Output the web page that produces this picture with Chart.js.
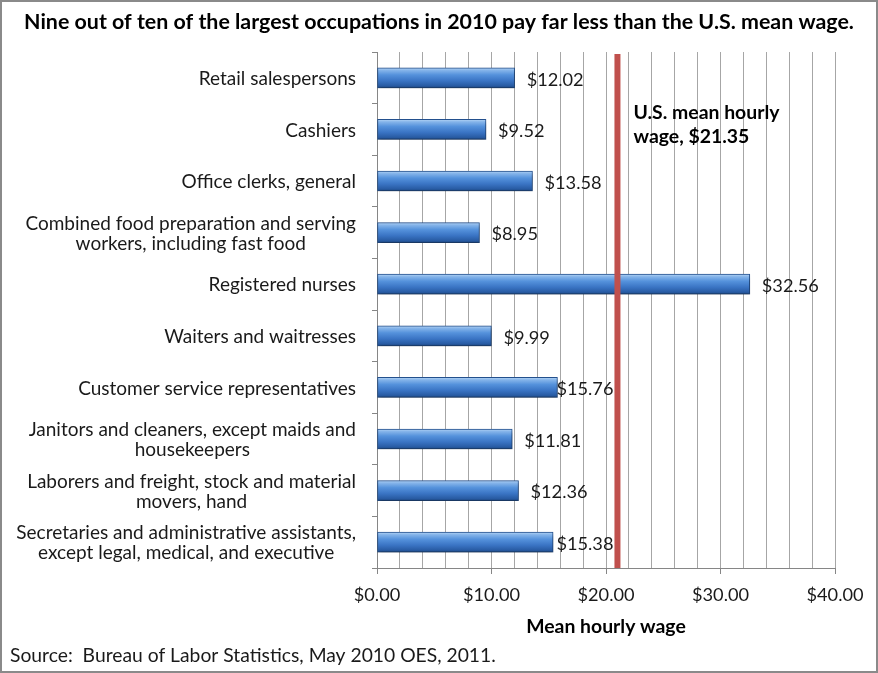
<!DOCTYPE html>
<html>
<head>
<meta charset="utf-8">
<script src="https://cdn.jsdelivr.net/npm/chart.js@4.4.0/dist/chart.umd.min.js"></script>
<style>
  html, body { margin: 0; padding: 0; background: #ffffff; }
  #wrap { width: 878px; height: 673px; position: relative; }
  canvas { display: block; }
</style>
</head>
<body>
<div id="wrap"><canvas id="c" width="878" height="673"></canvas></div>
<script>
// ---------------- data ----------------
const titleText = 'Nine out of ten of the largest occupations in 2010 pay far less than the U.S. mean wage.';
const categories = [
  ['Retail salespersons'],
  ['Cashiers'],
  ['Office clerks, general'],
  ['Combined food preparation and serving', 'workers, including fast food'],
  ['Registered nurses'],
  ['Waiters and waitresses'],
  ['Customer service representatives'],
  ['Janitors and cleaners, except maids and', 'housekeepers'],
  ['Laborers and freight, stock and material', 'movers, hand'],
  ['Secretaries and administrative assistants,', 'except legal, medical, and executive']
];
const wages = [12.02, 9.52, 13.58, 8.95, 32.56, 9.99, 15.76, 11.81, 12.36, 15.38];
const xTickValues = [0, 10, 20, 30, 40];
const meanWage = 21.35;
const meanLinePosition = 21.0;   // where the reference draws the red line
const meanLabel = ['U.S. mean hourly', 'wage, $21.35'];
const axisTitle = 'Mean hourly wage';
const sourceText = 'Source:  Bureau of Labor Statistics, May 2010 OES, 2011.';

// ---------------- styling helpers ----------------
const FAMILY = 'Lato, "Open Sans", "DejaVu Sans", sans-serif';
const mctx = document.createElement('canvas').getContext('2d');
function fit(text, weight, target) {
  mctx.font = weight + ' 100px ' + FAMILY;
  const w = mctx.measureText(text).width;
  return Math.round(1000 * target / w) / 10;
}
const sTitle = fit(titleText, 'bold', 830);
const sCat = fit('Customer service representatives', 'normal', 278);
const sTick = fit('$40.00', 'normal', 57);
const sData = fit('$12.02', 'normal', 57);
const sMean = fit('U.S. mean hourly', 'bold', 146);
const sAxis = fit(axisTitle, 'bold', 160);
const sSrc = fit(sourceText, 'normal', 485);
const TEXT = '#1a1a1a';

function money(v) { return '$' + v.toFixed(2); }

function barGradient(ctx) {
  const chart = ctx.chart;
  const ys = chart.scales && chart.scales.y;
  if (!ys || ctx.type !== 'data') return '#3f7fcf';
  const yc = ys.getPixelForValue(ctx.dataIndex);
  if (!isFinite(yc)) return '#3f7fcf';
  const g = chart.ctx.createLinearGradient(0, yc - 10, 0, yc + 10);
  g.addColorStop(0.0, '#b6d5f5');
  g.addColorStop(0.12, '#86b5ea');
  g.addColorStop(0.35, '#5592dc');
  g.addColorStop(0.65, '#3a74c4');
  g.addColorStop(0.9, '#285ba3');
  g.addColorStop(1.0, '#1d467f');
  return g;
}

// ---------------- plugins ----------------
const framePlugin = {
  id: 'frame',
  beforeDraw(chart) {
    const c = chart.ctx;
    c.save();
    c.fillStyle = '#ffffff';
    c.fillRect(0, 0, chart.width, chart.height);
    c.restore();
  },
  afterDraw(chart) {
    const c = chart.ctx;
    c.save();
    c.strokeStyle = '#8a8a8a';
    c.lineWidth = 2;
    c.strokeRect(1, 1, chart.width - 2, chart.height - 2);
    // title
    c.fillStyle = '#000';
    c.font = 'bold ' + sTitle + 'px ' + FAMILY;
    c.textAlign = 'center';
    c.textBaseline = 'alphabetic';
    c.fillText(titleText, 439, 28.5);
    // source
    c.fillStyle = TEXT;
    c.font = sSrc + 'px ' + FAMILY;
    c.textAlign = 'left';
    c.fillText(sourceText, 10, 662);
    c.restore();
  }
};

const categoryLabelPlugin = {
  id: 'catLabels',
  afterDraw(chart) {
    const c = chart.ctx;
    const ys = chart.scales.y;
    c.save();
    c.font = sCat + 'px ' + FAMILY;
    c.fillStyle = TEXT;
    c.textAlign = 'center';
    c.textBaseline = 'middle';
    const right = ys.right - 21;
    const lh = 20;
    categories.forEach((lines, i) => {
      const yc = ys.getPixelForTick(i) + 1;
      const maxW = Math.max(...lines.map(l => c.measureText(l).width));
      const cx = right - maxW / 2;
      lines.forEach((l, j) => {
        c.fillText(l, cx, yc + (j - (lines.length - 1) / 2) * lh);
      });
    });
    c.restore();
  }
};

const shadowPlugin = {
  id: 'barShadow',
  beforeDatasetsDraw(chart) {
    const c = chart.ctx;
    c.save();
    c.shadowColor = 'rgba(0,0,0,0.35)';
    c.shadowBlur = 4;
    c.shadowOffsetX = 1;
    c.shadowOffsetY = 3;
  },
  afterDatasetsDraw(chart) {
    chart.ctx.restore();
  }
};

const meanLinePlugin = {
  id: 'meanLine',
  afterDatasetsDraw(chart) {
    const c = chart.ctx;
    const xs = chart.scales.x;
    const area = chart.chartArea;
    const lx = xs.getPixelForValue(meanLinePosition);
    c.save();
    c.strokeStyle = '#c0504d';
    c.lineWidth = 6;
    c.beginPath();
    c.moveTo(lx, area.top + 2);
    c.lineTo(lx, area.bottom);
    c.stroke();
    // label
    c.fillStyle = '#000';
    c.font = 'bold ' + sMean + 'px ' + FAMILY;
    c.textAlign = 'left';
    c.textBaseline = 'alphabetic';
    meanLabel.forEach((t, j) => c.fillText(t, lx + 16, area.top + 67 + j * 24));
    // data labels
    const meta = chart.getDatasetMeta(0);
    c.font = sData + 'px ' + FAMILY;
    c.fillStyle = TEXT;
    c.textBaseline = 'middle';
    meta.data.forEach((bar, i) => {
      const txt = money(wages[i]);
      const w = c.measureText(txt).width;
      let tx = bar.x + 12;
      if (tx < lx && tx + w > lx - 4) tx = Math.min(tx, lx - 4 - w);
      c.fillText(txt, tx, bar.y + 2);
    });
    c.restore();
  }
};

// ---------------- chart ----------------
new Chart(document.getElementById('c'), {
  type: 'bar',
  data: {
    labels: categories,
    datasets: [{
      data: wages,
      backgroundColor: barGradient,
      borderColor: '#24518f',
      borderWidth: 1,
      borderSkipped: false,
      barThickness: 20
    }]
  },
  options: {
    indexAxis: 'y',
    responsive: false,
    animation: false,
    devicePixelRatio: 1,
    layout: { padding: { top: 52, right: 43, bottom: 5, left: 0 } },
    plugins: {
      legend: { display: false },
      tooltip: { enabled: false },
      title: { display: false }
    },
    scales: {
      x: {
        min: 0,
        max: 40,
        ticks: {
          stepSize: 2,
          autoSkip: false,
          maxRotation: 0,
          padding: 10,
          color: TEXT,
          font: { family: FAMILY, size: sTick },
          callback: (v) => xTickValues.includes(v) ? money(v) : ''
        },
        grid: {
          color: '#a6a6a6',
          lineWidth: 1,
          tickLength: 6,
          tickColor: (ctx) => (ctx.tick && xTickValues.includes(ctx.tick.value)) ? '#868686' : 'rgba(0,0,0,0)'
        },
        border: { color: '#868686', width: 1 },
        title: {
          display: true,
          text: axisTitle,
          color: '#000',
          font: { family: FAMILY, size: sAxis, weight: 'bold' },
          padding: { top: 4, bottom: 30 }
        },
        afterFit: (s) => { s.height = 100; }
      },
      y: {
        ticks: { display: false },
        grid: { drawOnChartArea: false, offset: true, tickLength: 5, color: '#868686' },
        border: { color: '#868686', width: 1 },
        afterFit: (s) => { s.width = 377; }
      }
    }
  },
  plugins: [framePlugin, shadowPlugin, meanLinePlugin, categoryLabelPlugin]
});
</script>
</body>
</html>
